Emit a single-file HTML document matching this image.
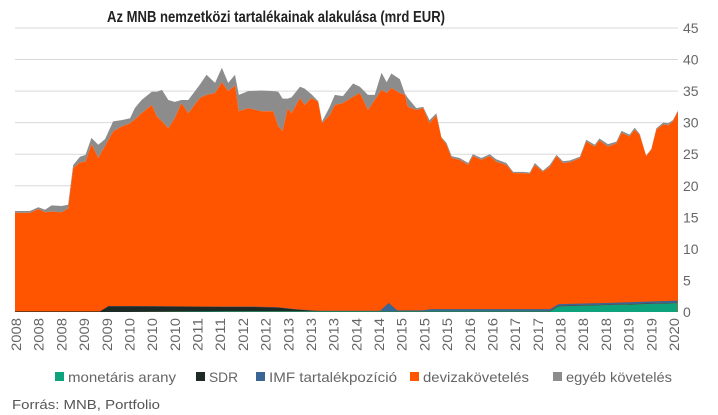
<!DOCTYPE html>
<html><head><meta charset="utf-8">
<style>
html,body{margin:0;padding:0;background:#fff;}
svg{display:block;font-family:"Liberation Sans",sans-serif;}
</style></head>
<body>
<svg id="chart" width="718" height="415" viewBox="0 0 718 415" xmlns="http://www.w3.org/2000/svg">
<text x="276" y="22" text-anchor="middle" font-size="16" font-weight="bold" fill="#222" textLength="338" lengthAdjust="spacingAndGlyphs">Az MNB nemzetközi tartalékainak alakulása (mrd EUR)</text>
<g id="grid"></g>
<g id="yaxis"></g>
<g id="areas"></g>
<g id="xaxis"></g>
<g id="legend"></g>
<text x="12" y="409" font-size="13" fill="#555" textLength="148" lengthAdjust="spacingAndGlyphs">Forrás: MNB, Portfolio</text>
</svg>
<script>
// months since Jan 2008
const dates = [0,3.5,5.5,7.1,8.6,11.0,12.5,13.7,15.3,16.6,18.0,19.6,21.2,23.1,25.1,27.1,28.2,29.8,32.2,33.4,34.6,36.1,37.6,39.2,40.8,43.5,45.1,47.1,48.7,50.2,51.8,52.7,54.9,58.0,60.8,62.0,63.0,64.2,65.1,67.1,68.2,69.8,71.4,72.3,74.1,75.3,77.2,79.6,81.2,83.1,84.7,86.3,87.5,88.6,90.6,91.8,92.5,94.5,96.1,97.6,99.2,100.4,101.6,102.8,104.7,106.7,107.8,109.8,111.8,113.3,115.7,117.3,119.6,121.2,122.4,124.3,125.9,127.5,129.0,130.6,133.0,134.5,136.5,137.6,139.6,141.6,142.8,144.7,145.9,147.1,148.6,149.8,151.0,152.6,153.8,154.9,156.1];
// cumulative top of devizakövetelés (bottom components + deviza)
const devizaTop = [15.7,15.7,16.3,15.8,15.9,15.8,16.4,22.8,23.7,23.8,26.6,24.4,26.3,28.6,29.4,29.9,30.5,31.5,32.8,31.0,30.2,29.1,30.7,33.1,31.5,33.9,34.4,34.7,36.4,35.0,35.9,31.8,32.3,31.8,31.8,29.4,28.7,32.3,31.5,33.9,32.8,33.9,33.3,29.9,31.2,32.8,33.1,34.1,34.7,32.0,33.6,35.2,34.7,35.5,34.7,34.4,32.5,32.0,32.3,29.9,31.2,27.6,26.5,24.4,24.1,23.3,24.7,24.1,24.7,23.8,23.3,22.0,22.0,21.9,23.3,22.2,23.0,24.7,23.6,23.7,24.4,27.0,26.2,27.2,26.2,26.7,28.4,27.8,28.9,28.0,24.7,25.7,28.9,29.7,29.6,30.2,31.8];
// total (incl. egyéb követelés)
const totalTop = [16.0,16.0,16.6,16.2,16.9,16.8,17.0,23.3,24.6,24.9,27.6,26.5,27.4,30.2,30.4,30.7,32.3,33.6,34.9,34.9,35.2,33.6,33.3,33.6,33.6,36.0,37.6,36.3,38.7,36.3,37.6,34.4,35.0,35.1,35.0,34.9,33.8,33.8,34.0,35.7,35.4,34.5,33.4,30.2,32.5,34.4,34.2,36.2,35.7,34.4,34.4,37.9,36.4,37.8,36.9,34.6,33.9,32.3,32.5,30.4,31.5,27.7,26.8,24.7,24.4,23.6,25.0,24.4,25.0,24.2,23.6,22.2,22.2,22.1,23.6,22.4,23.3,24.9,23.9,24.0,24.6,27.3,26.5,27.5,26.6,27.0,28.7,28.1,29.2,28.2,24.8,25.8,29.1,30.0,29.9,30.4,31.9];
const botDates = [0,20,22,24,40,50,56,62,66,70,72,86,88,90,96,98,126,128,140,156];
const gold = [0,0,0,0,0.05,0.1,0.1,0.1,0.1,0.1,0.1,0.1,0.1,0.1,0.1,0.1,0.1,0.9,1.1,1.4];
const sdr = [0.1,0.1,0.9,0.9,0.8,0.7,0.7,0.6,0.3,0.1,0.05,0.05,0.05,0.05,0.05,0.05,0.05,0.05,0.05,0.05];
const imf = [0,0,0.05,0.05,0.05,0.05,0.05,0.05,0.05,0.05,0.05,0.05,1.3,0.1,0.1,0.3,0.3,0.3,0.3,0.35];
const yTicks = [0,5,10,15,20,25,30,35,40,45];
const xLabels = ["2008","2008","2008","2009","2009","2010","2010","2010","2011","2011","2012","2012","2013","2013","2013","2014","2014","2015","2015","2015","2016","2016","2017","2017","2018","2018","2018","2019","2019","2020"];
const legendNames = ["monetáris arany","SDR","IMF tartalékpozíció","devizakövetelés","egyéb követelés"];
const legendColors = ["#0ea37c","#1d2a25","#3a6595","#ff5500","#8c8c8c"];

const NS="http://www.w3.org/2000/svg";
const X0=15, X1=678, Y0=312, YTOP=28;
const xs = m => X0 + (m/156.1)*(X1-X0);
const ys = v => Y0 - (v/45)*(Y0-YTOP);
function mk(tag, parent, attrs){const e=document.createElementNS(NS,tag);for(const k in attrs)e.setAttribute(k,attrs[k]);parent.appendChild(e);return e;}

const grid=document.getElementById('grid'), yaxis=document.getElementById('yaxis');
yTicks.forEach(t=>{
  if(t>0){const l=mk('line',grid,{x1:X0,x2:X1,y1:ys(t),y2:ys(t),stroke:'#d9d9d9','stroke-width':1});
  
  }
  const tx=mk('text',yaxis,{x:683,y:ys(t)+5,'font-size':14,fill:'#666'});
  
  
  tx.textContent=t;
});

const areas=document.getElementById('areas');
function areaPath(dx, top, bot){
  let d='M'+xs(dx[0])+','+ys(top[0]);
  for(let i=1;i<dx.length;i++) d+='L'+xs(dx[i])+','+ys(top[i]);
  for(let i=dx.length-1;i>=0;i--) d+='L'+xs(dx[i])+','+ys(bot?bot[i]:0);
  return d+'Z';
}
const egy=mk('path',areas,{d:areaPath(dates,totalTop,devizaTop),fill:'#8c8c8c'});


const dev=mk('path',areas,{d:areaPath(dates,devizaTop,null),fill:'#ff5500'});


const c1=gold, c2=gold.map((v,i)=>v+sdr[i]), c3=c2.map((v,i)=>v+imf[i]);
const aImf=mk('path',areas,{d:areaPath(botDates,c3,c2),fill:'#3a6595'});


const aSdr=mk('path',areas,{d:areaPath(botDates,c2,c1),fill:'#1d2a25'});


const aGold=mk('path',areas,{d:areaPath(botDates,c1,null),fill:'#0ea37c'});



const xaxis=document.getElementById('xaxis');
xLabels.forEach((lb,i)=>{
  const x=16+i*(674-16)/29;
  const t=mk('text',xaxis,{transform:`translate(${x+5},318) rotate(-90)`,'text-anchor':'end','font-size':14,fill:'#666',textLength:33,lengthAdjust:'spacingAndGlyphs'});
  
  
  t.textContent=lb;
});

const legend=document.getElementById('legend');
const lx=[55,196,256,410,553];
const lw=[108,29,128,106,106];
legendNames.forEach((n,i)=>{
  const g=mk('g',legend,{});
  
  
  mk('rect',g,{x:lx[i],y:372,width:9,height:9,fill:legendColors[i]});
  const t=mk('text',g,{x:lx[i]+13,y:382,'font-size':14,fill:'#666',textLength:lw[i],lengthAdjust:'spacingAndGlyphs'});
  t.textContent=n;
});
</script>
</body></html>
